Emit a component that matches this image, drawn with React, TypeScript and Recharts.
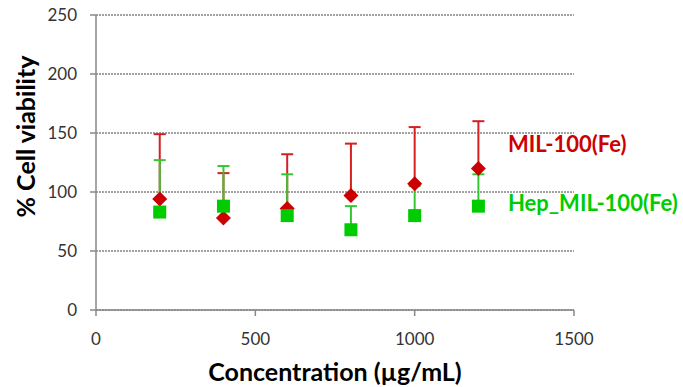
import React from 'react';
import { ScatterChart, Scatter, XAxis, YAxis, CartesianGrid, ErrorBar, Label } from 'recharts';

const concentrations = [200, 400, 600, 800, 1000, 1200];
const milMean = [94, 78, 86, 97, 107, 120];
const milErr = [55, 38, 46, 44, 48, 40];
const hepMean = [83, 88, 80, 68, 80, 88];
const hepErr = [44, 34, 35, 20, 25, 27];
const xTicks = [0, 500, 1000, 1500];
const yTicks = [0, 50, 100, 150, 200, 250];
const seriesNames = ['MIL-100(Fe)', 'Hep_MIL-100(Fe)'];

const RED = '#CC0000';
const GREEN = '#00CC00';
const FONT = 'Lato, "Open Sans", sans-serif';

const milData = concentrations.map((c, i) => ({ x: c, y: milMean[i], err: [0, milErr[i]] }));
const hepData = concentrations.map((c, i) => ({ x: c, y: hepMean[i], err: [0, hepErr[i]] }));

const Empty = () => <g />;

const Diamond = (props: any) => {
    const { cx, cy } = props;
    const r = 7.5;
    return <polygon points={`${cx},${cy - r} ${cx + r},${cy} ${cx},${cy + r} ${cx - r},${cy}`} fill={RED} />;
};

const Square = (props: any) => {
    const { cx, cy } = props;
    const s = 13;
    return <rect x={cx - s / 2} y={cy - s / 2} width={s} height={s} fill={GREEN} />;
};

export default function App() {
    return (
        <div style={{ position: 'absolute', left: 0, top: 0, width: 683, height: 387, background: '#fff', overflow: 'hidden' }}>
            <ScatterChart width={683} height={387} margin={{ top: 15, right: 109, bottom: 0, left: 0 }}>
                <CartesianGrid horizontal vertical={false} stroke="#444" strokeDasharray="2 1" />
                <XAxis
                    type="number"
                    dataKey="x"
                    domain={[0, 1500]}
                    ticks={xTicks}
                    height={77}
                    stroke="#888"
                    strokeWidth={1.5}
                    tickSize={6}
                    tick={{ fill: '#333', fontSize: 17, fontFamily: FONT }}
                    tickMargin={17}
                >
                    <Label
                        value="Concentration (µg/mL)"
                        position="insideBottom"
                        offset={6}
                        style={{ fontFamily: FONT, fontWeight: 700, fontSize: 25, fill: '#000' }}
                    />
                </XAxis>
                <YAxis
                    type="number"
                    dataKey="y"
                    domain={[0, 250]}
                    ticks={yTicks}
                    width={96}
                    stroke="#888"
                    strokeWidth={1.5}
                    tickSize={6}
                    tick={{ fill: '#333', fontSize: 17, fontFamily: FONT }}
                    tickMargin={13}
                >
                    <Label
                        value="% Cell viability"
                        position="center"
                        angle={-90}
                        dx={-22}
                        dy={-26}
                        style={{ fontFamily: FONT, fontWeight: 700, fontSize: 25, fill: '#000', textAnchor: 'middle' }}
                    />
                </YAxis>
                <Scatter data={milData} shape={<Empty />} isAnimationActive={false}>
                    <ErrorBar dataKey="err" direction="y" width={6} stroke="#D42020" strokeWidth={2} />
                </Scatter>
                <Scatter data={hepData} shape={<Empty />} isAnimationActive={false}>
                    <ErrorBar dataKey="err" direction="y" width={6} stroke="#33C833" strokeWidth={2} />
                </Scatter>
                <Scatter name={seriesNames[0]} data={milData} shape={<Diamond />} isAnimationActive={false} />
                <Scatter name={seriesNames[1]} data={hepData} shape={<Square />} isAnimationActive={false} />
            </ScatterChart>
            <div style={{ position: 'absolute', left: 508, top: 131, fontFamily: FONT, fontWeight: 700, fontSize: 22, lineHeight: 1.2, color: RED, whiteSpace: 'nowrap' }}>
                {seriesNames[0]}
            </div>
            <div style={{ position: 'absolute', left: 508, top: 190, fontFamily: FONT, fontWeight: 700, fontSize: 22, lineHeight: 1.2, color: GREEN, whiteSpace: 'nowrap' }}>
                {seriesNames[1]}
            </div>
        </div>
    );
}
